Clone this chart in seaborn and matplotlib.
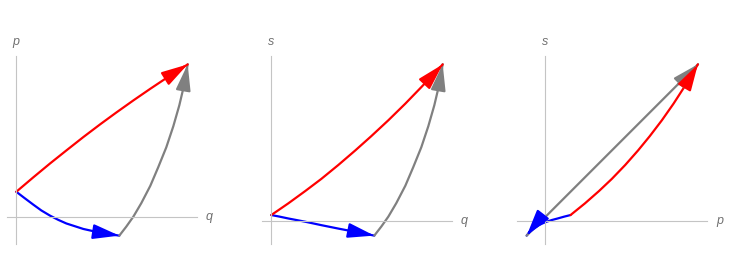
import matplotlib
matplotlib.use('Agg')
import matplotlib.pyplot as plt
import seaborn as sns
import numpy as np

sns.set_style('white')
plt.rcParams['font.family'] = ['Liberation Sans', 'DejaVu Sans']

# three paths between states A, B, C, sampled in (q, p, s)
red_q = [0, 0.099, 0.198, 0.292, 0.391, 0.490, 0.583, 0.683, 0.782, 0.875, 0.957, 1.0]
red_p = [0.149, 0.233, 0.315, 0.390, 0.468, 0.543, 0.611, 0.682, 0.750, 0.812, 0.865, 0.892]
red_s = [0.033, 0.101, 0.173, 0.244, 0.325, 0.410, 0.493, 0.586, 0.683, 0.779, 0.866, 0.912]

blue_q = [0, 0.047, 0.099, 0.146, 0.198, 0.245, 0.292, 0.391, 0.490, 0.601]
blue_p = [0.149, 0.113, 0.074, 0.040, 0.009, -0.015, -0.036, -0.068, -0.090, -0.107]
blue_s = [0.033, 0.024, 0.013, 0.004, -0.006, -0.016, -0.026, -0.046, -0.065, -0.087]

gray_q = [0.601, 0.642, 0.683, 0.729, 0.782, 0.828, 0.875, 0.916, 0.951, 0.980, 1.0]
gray_p = [-0.107, -0.054, 0.004, 0.082, 0.184, 0.292, 0.408, 0.531, 0.653, 0.776, 0.893]
gray_s = [-0.087, -0.034, 0.024, 0.102, 0.204, 0.312, 0.428, 0.551, 0.673, 0.796, 0.913]

paths = {
    'blue': {'q': blue_q, 'p': blue_p, 's': blue_s},
    'gray': {'q': gray_q, 'p': gray_p, 's': gray_s},
    'red': {'q': red_q, 'p': red_p, 's': red_s},
}
colors = {'blue': '#0000ff', 'gray': '#808080', 'red': '#ff0000'}

panels = [('q', 'p'), ('q', 's'), ('p', 's')]
origins = [(16.3, 217.3), (271.3, 220.7), (545.0, 220.7)]  # pixel position of (0,0)

W, H = 747, 256
S = 171.4  # pixels per data unit
fig = plt.figure(figsize=(W / 100, H / 100), dpi=100)

for (xv, yv), (ox, oy) in zip(panels, origins):
    x0, x1, y0, y1 = ox - 25, ox + 200, 30, 252
    ax = fig.add_axes([x0 / W, (H - y1) / H, (x1 - x0) / W, (y1 - y0) / H])
    ax.set_xlim((x0 - ox) / S, (x1 - ox) / S)
    ax.set_ylim((oy - y1) / S, (oy - y0) / S)

    for name in ['blue', 'gray', 'red']:
        xs, ys = paths[name][xv], paths[name][yv]
        sns.lineplot(x=xs, y=ys, sort=False, estimator=None, color=colors[name],
                     linewidth=1.6, ax=ax)
        ax.annotate('', xy=(xs[-1], ys[-1]), xytext=(xs[-2], ys[-2]),
                    arrowprops=dict(arrowstyle='-|>,head_length=1.6,head_width=0.45',
                                    color=colors[name], lw=1.6, mutation_scale=10,
                                    shrinkA=0, shrinkB=0))

    allx = sum([paths[n][xv] for n in paths], [])
    ally = sum([paths[n][yv] for n in paths], [])
    rx, ry = max(allx) - min(allx), max(ally) - min(ally)
    xb = (min(allx) - 0.054 * rx, max(allx) + 0.054 * rx)
    yb = (min(ally) - 0.049 * ry, max(ally) + 0.049 * ry)

    for side in ['top', 'right']:
        ax.spines[side].set_visible(False)
    ax.spines['left'].set_position(('data', 0))
    ax.spines['bottom'].set_position(('data', 0))
    ax.spines['left'].set_bounds(*yb)
    ax.spines['bottom'].set_bounds(*xb)
    for side in ['left', 'bottom']:
        ax.spines[side].set_color('#c4c4c4')
        ax.spines[side].set_linewidth(0.8)
    ax.set_xticks([])
    ax.set_yticks([])
    ax.patch.set_alpha(0)

    ax.text(0, yb[1] + 14 / S, yv, ha='center', va='center', fontsize=9,
            style='italic', color='#707070', clip_on=False)
    ax.text(xb[1] + 12 / S, 0, xv, ha='center', va='center', fontsize=9,
            style='italic', color='#707070', clip_on=False)

fig.savefig('out.png', dpi=100)
